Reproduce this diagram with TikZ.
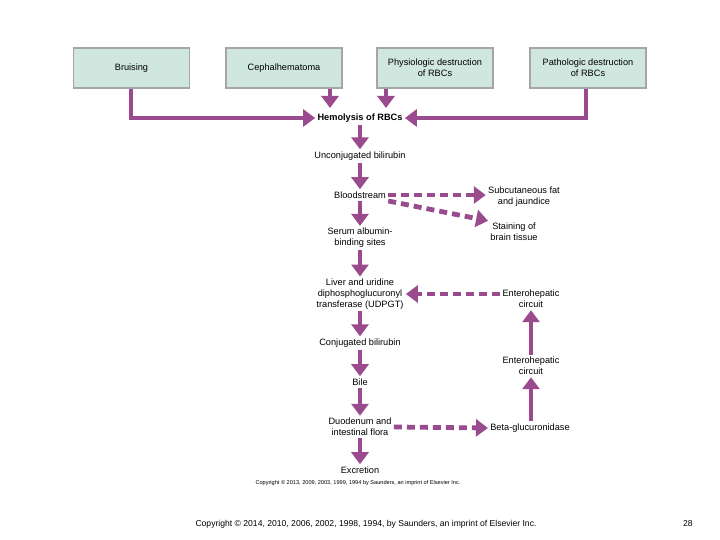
\documentclass[tikz,border=0pt]{standalone}
\usepackage{fontspec}
\setmainfont{Liberation Sans}
\usetikzlibrary{arrows.meta}
\definecolor{pur}{HTML}{9A4B8E}
\definecolor{boxf}{HTML}{CFE7DE}
\begin{document}
\begin{tikzpicture}[x=0.5pt,y=-0.5pt,
  box/.style={draw=gray!70,line width=0.6pt,fill=boxf,minimum width=58pt,minimum height=20pt,align=center,font=\fontsize{4.6}{5.4}\selectfont},
  lbl/.style={align=center,font=\fontsize{4.6}{5.4}\selectfont,inner sep=1pt},
  ar/.style={draw=pur,line width=2.4pt,-{Triangle[width=8.5pt,length=6pt]}},
  da/.style={ar,dash pattern=on 4pt off 2.5pt}]
\useasboundingbox (0,0) rectangle (720,540);
\node[box] (b1) at (131.5,68) {Bruising};
\node[box] (b2) at (284,68) {Cephalhematoma};
\node[box] (b3) at (435,68) {Physiologic destruction\\of RBCs};
\node[box] (b4) at (588,68) {Pathologic destruction\\of RBCs};
\node[lbl,font=\fontsize{4.6}{5.4}\selectfont\bfseries] (h) at (360,118) {Hemolysis of RBCs};
\node[lbl] (u) at (360,156) {Unconjugated bilirubin};
\node[lbl] (bs) at (360,195) {Bloodstream};
\node[lbl] (s) at (360,238) {Serum albumin-\\binding sites};
\node[lbl] (l) at (360,294) {Liver and uridine\\diphosphoglucuronyl\\transferase (UDPGT)};
\node[lbl] (c) at (360,343) {Conjugated bilirubin};
\node[lbl] (bi) at (360,382) {Bile};
\node[lbl] (d) at (360,427) {Duodenum and\\intestinal flora};
\node[lbl] (e) at (360,470) {Excretion};
\node[lbl] (sf) at (524,197) {Subcutaneous fat\\and jaundice};
\node[lbl] (st) at (514,232) {Staining of\\brain tissue};
\node[lbl] (e1) at (531,299) {Enterohepatic\\circuit};
\node[lbl] (e2) at (531,366) {Enterohepatic\\circuit};
\node[lbl] (bg) at (530,428) {Beta-glucuronidase};
\node[lbl,font=\fontsize{2.8}{3}\selectfont] (cp) at (358,483) {Copyright © 2013, 2009, 2003, 1999, 1994 by Saunders, an imprint of Elsevier Inc.};
\node[lbl,font=\fontsize{4.3}{5}\selectfont] (ft) at (366,524) {Copyright © 2014, 2010, 2006, 2002, 1998, 1994, by Saunders, an imprint of Elsevier Inc.};
\node[lbl,font=\fontsize{4.3}{5}\selectfont] (pg) at (688,524) {28};
\draw[ar] (b1.south -| 131,0) |- (h.west);
\draw[ar] (b4.south -| 586,0) |- (h.east);
\draw[ar] (b2.south -| 330,0) -- (330,108);
\draw[ar] (b3.south -| 386,0) -- (386,108);
\draw[ar] (h) -- (u);
\draw[ar] (u) -- (bs);
\draw[ar] (bs) -- (s);
\draw[ar] (s) -- (l);
\draw[ar] (l) -- (c);
\draw[ar] (c) -- (bi);
\draw[ar] (bi) -- (d);
\draw[ar] (d) -- (e);
\draw[da] (bs.east) -- (sf.west |- bs.east);
\draw[da] ([yshift=-3]bs.east) -- (st.north west);
\draw[da] (e1.west |- l) -- (l.east);
\draw[da] (d.east) -- (bg.west);
\draw[ar] (e2.south |- bg.north) -- (e2.south);
\draw[ar] (e2.north) -- (e1.south);
\end{tikzpicture}
\end{document}
